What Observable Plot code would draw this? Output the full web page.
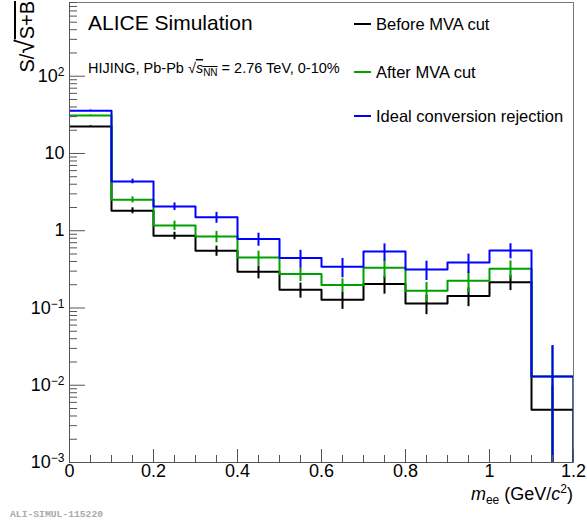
<!DOCTYPE html>
<html><head><meta charset="utf-8">
<script src="https://cdn.jsdelivr.net/npm/d3@7"></script>
<script src="https://cdn.jsdelivr.net/npm/@observablehq/plot@0.6"></script>
<style>
body{margin:0;background:#fff}
#chart{position:relative;width:587px;height:523px}
</style>
</head><body><div id="chart"></div>
<script>
// ---- data ----
const binEdges = [0, 0.1, 0.2, 0.3, 0.4, 0.5, 0.6, 0.7, 0.8, 0.9, 1.0, 1.1, 1.2];
const seriesNames = ["Before MVA cut", "After MVA cut", "Ideal conversion rejection"];
const seriesColors = ["#000000", "#00a000", "#0000ff"];
const beforeValues = [22.4, 1.82, 0.86, 0.55, 0.294, 0.172, 0.128, 0.204, 0.114, 0.143, 0.216, 0.0048];
const beforeErrors = [0.45, 0.16, 0.095, 0.083, 0.056, 0.038, 0.032, 0.053, 0.032, 0.039, 0.048, 0.005];
const afterValues  = [30.9, 2.52, 1.17, 0.84, 0.45, 0.275, 0.198, 0.332, 0.167, 0.225, 0.322, 0.013];
const afterErrors  = [0.6, 0.23, 0.16, 0.14, 0.095, 0.055, 0.04, 0.09, 0.047, 0.068, 0.084, 0.0195];
const idealValues  = [35.8, 4.35, 2.06, 1.49, 0.78, 0.443, 0.342, 0.54, 0.315, 0.389, 0.556, 0.013];
const idealErrors  = [0.7, 0.30, 0.23, 0.24, 0.15, 0.115, 0.096, 0.135, 0.088, 0.109, 0.122, 0.0195];
const xTickValues = [0, 0.2, 0.4, 0.6, 0.8, 1, 1.2];
const xTickLabels = ["0", "0.2", "0.4", "0.6", "0.8", "1", "1.2"];
const xMinorTicks = [0.05, 0.1, 0.15, 0.25, 0.3, 0.35, 0.45, 0.5, 0.55, 0.65, 0.7, 0.75, 0.85, 0.9, 0.95, 1.05, 1.1, 1.15];
const yTickValues = [1e-3, 1e-2, 1e-1, 1, 10, 100];
const yTickLabels = ["10^-3", "10^-2", "10^-1", "1", "10", "10^2"];
const yDomain = [1e-3, 900];
const xDomain = [0, 1.2];

// ---- build tables ----
const allValues = [beforeValues, afterValues, idealValues];
const allErrors = [beforeErrors, afterErrors, idealErrors];
const series = seriesNames.map((name, k) => {
  const vals = allValues[k], errs = allErrors[k];
  const steps = [];
  vals.forEach((v, i) => { steps.push({x: binEdges[i], y: v}); steps.push({x: binEdges[i + 1], y: v}); });
  steps.push({x: binEdges[binEdges.length - 1], y: yDomain[0]});
  const bars = vals.map((v, i) => ({
    x: (binEdges[i] + binEdges[i + 1]) / 2,
    y1: Math.max(v - errs[i], yDomain[0]),
    y2: v + errs[i]
  }));
  return {name, color: seriesColors[k], steps, bars};
});
const yMinor = [];
for (let e = -3; e <= 2; e++) for (let m = 2; m <= 9; m++) { const t = m * Math.pow(10, e); if (t <= yDomain[1]) yMinor.push(t); }

const axisColor = "#555";
const marks = [Plot.frame({stroke: "#777"})];
series.forEach(s => {
  marks.push(Plot.line(s.steps, {x: "x", y: "y", stroke: s.color, strokeWidth: 2, clip: true}));
  marks.push(Plot.ruleX(s.bars, {x: "x", y1: "y1", y2: "y2", stroke: s.color, strokeWidth: 2, clip: true}));
});
marks.push(
  Plot.ruleX([xDomain[0]], {stroke: axisColor}),
  Plot.ruleY([yDomain[0]], {stroke: axisColor}),
  Plot.axisY(yTickValues, {tickSize: -16, tickFormat: () => "", stroke: axisColor}),
  Plot.axisY(yMinor, {tickSize: -8, tickFormat: () => "", stroke: axisColor}),
  Plot.axisY(yTickValues, {tickSize: 0, tickPadding: 5, fontSize: 18, fill: "#000",
    tickFormat: d => yTickLabels[yTickValues.indexOf(d)]}),
  Plot.axisX(xTickValues, {tickSize: -13, tickFormat: () => "", stroke: axisColor}),
  Plot.axisX(xMinorTicks, {tickSize: -7, tickFormat: () => "", stroke: axisColor}),
  Plot.axisX(xTickValues, {tickSize: 0, tickPadding: 2, fontSize: 18, fill: "#000",
    tickFormat: d => xTickLabels[xTickValues.indexOf(d)], label: null})
);

const svgNode = Plot.plot({
  width: 587, height: 523,
  marginLeft: 69, marginRight: 14, marginTop: 2, marginBottom: 61,
  x: {domain: xDomain, label: null},
  y: {type: "log", domain: yDomain, label: null},
  style: {fontFamily: "'Liberation Sans', Arial, Helvetica, sans-serif", background: "#fff", overflow: "visible"},
  marks
});
document.getElementById("chart").appendChild(svgNode);

const svg = d3.select(svgNode);
// superscript exponents on y labels
svg.selectAll("text").each(function() {
  const t = this.textContent;
  if (/^10\^/.test(t)) {
    const exp = t.slice(3).replace("-", "\u2212");
    const sel = d3.select(this);
    sel.text(null);
    sel.append("tspan").text("10");
    sel.append("tspan").attr("dy", "-0.5em").attr("font-size", 12).text(exp);
  }
});

const font = "'Liberation Sans', Arial, Helvetica, sans-serif";
const g = svg.append("g").attr("font-family", font).attr("fill", "#000").attr("text-anchor", "start");

// y title
const yt = g.append("text").attr("transform", "translate(34,1) rotate(-90)")
  .attr("text-anchor", "end").attr("font-size", 20);
yt.append("tspan").text("S/");
yt.append("tspan").attr("font-size", 26).text("\u221A");
yt.append("tspan").attr("text-decoration", "overline").text("S+B");

// x title
const xt = g.append("text").attr("x", 573).attr("y", 500).attr("text-anchor", "end").attr("font-size", 18);
xt.append("tspan").attr("font-style", "italic").text("m");
xt.append("tspan").attr("font-size", 12).attr("dy", 4).text("ee");
xt.append("tspan").attr("dy", -4).text(" (GeV/");
xt.append("tspan").attr("font-style", "italic").text("c");
xt.append("tspan").attr("font-size", 12).attr("dy", -7).text("2");
xt.append("tspan").attr("dy", 7).text(")");

// annotations
g.append("text").attr("x", 88).attr("y", 30).attr("font-size", 21).text("ALICE Simulation");
const hj = g.append("text").attr("x", 88).attr("y", 73).attr("font-size", 14.5);
hj.append("tspan").text("HIJING, Pb-Pb \u221A");
hj.append("tspan").attr("font-style", "italic").attr("text-decoration", "overline").text("s");
hj.append("tspan").attr("font-size", 10).attr("dy", 3).attr("text-decoration", "overline").text("NN");
hj.append("tspan").attr("dy", -3).text(" = 2.76 TeV, 0-10%");

// legend
const legendY = [24, 72, 116];
seriesNames.forEach((n, k) => {
  g.append("line").attr("x1", 354).attr("x2", 371).attr("y1", legendY[k]).attr("y2", legendY[k])
    .attr("stroke", seriesColors[k]).attr("stroke-width", 2);
  g.append("text").attr("x", 376).attr("y", legendY[k] + 6).attr("font-size", 16.5).text(n);
});

// watermark
g.append("text").attr("x", 10).attr("y", 517).attr("font-family", "'Liberation Mono', 'DejaVu Sans Mono', monospace")
  .attr("font-size", 9.7).attr("font-weight", "bold").attr("fill", "#aaa").text("ALI-SIMUL-115220");
</script>
</body></html>
